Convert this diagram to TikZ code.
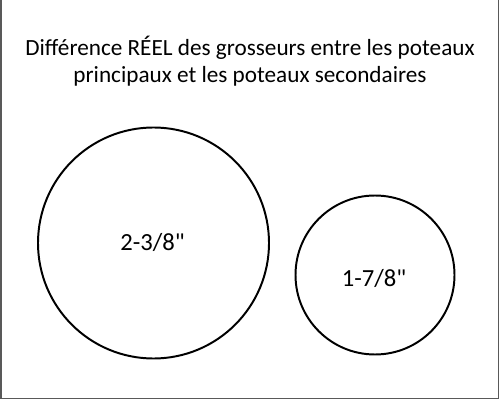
\documentclass[tikz,border=0pt]{standalone}
\usepackage{fontspec}
\setmainfont{Carlito}[Ligatures=TeXOff]
\begin{document}
\begin{tikzpicture}[x=0.025cm,y=-0.025cm]
\tikzset{poteau/.style={circle,draw,line width=1.4pt,inner sep=0pt},
etiquette/.style={font=\fontsize{17.5}{20}\selectfont}}
\useasboundingbox (0,0) rectangle (500,400);
\fill[white] (0,0) rectangle (500,400);
\draw[gray!70!black,line width=0.8pt] (1,0) -- (1,398.5) -- (498.5,398.5) -- (498.5,0);
\node[align=center,font=\fontsize{16.5}{19.3}\selectfont] (titre) at (250,61)
{Différence RÉEL des grosseurs entre les poteaux\\principaux et les poteaux secondaires};
\node[poteau,minimum size=231*0.025cm] (principal) at (153.5,243) {};
\node[poteau,minimum size=159*0.025cm] (secondaire) at (375,275) {};
\node[etiquette] (diamprincipal) at (152.5,242) {2-3/8"};
\node[etiquette] (diamsecondaire) at (374,278) {1-7/8"};
\end{tikzpicture}
\end{document}
